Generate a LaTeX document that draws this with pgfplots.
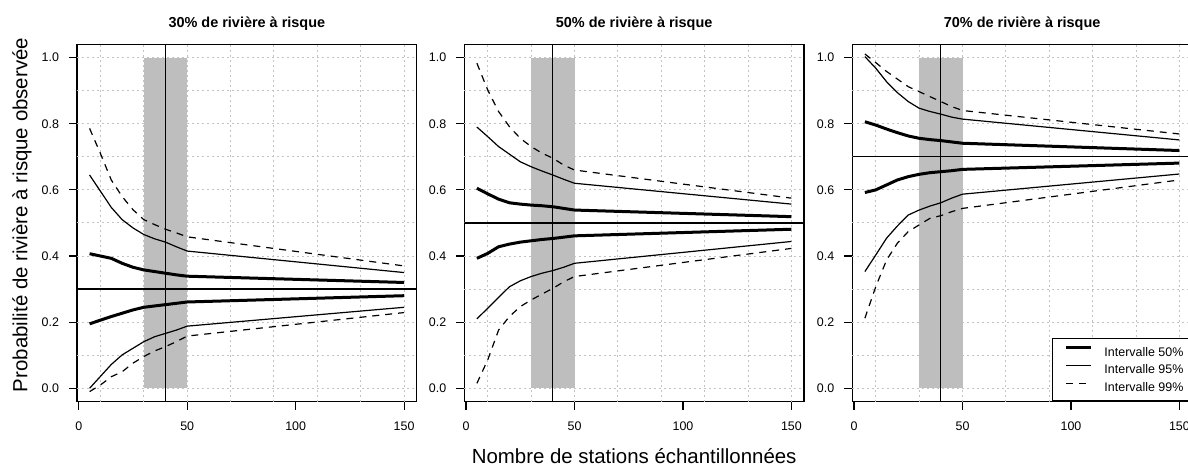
\documentclass[border=0pt]{standalone}
\usepackage{fontspec}
\setmainfont{Liberation Sans}
\usepackage{pgfplots}
\usepackage{pgfplotstable}
\pgfplotsset{compat=1.18}

\definecolor{rgray}{RGB}{190,190,190}
\definecolor{gridgray}{RGB}{195,195,195}

% quantiles of observed proportion, by number of sampled stations
\pgfplotstableread{
x    u99    u95   u50   l50   l95   l99
5    0.786  0.645 0.407 0.195 0.000 -0.010
10   0.710  0.596 0.400 0.206 0.036 0.010
15   0.630  0.547 0.393 0.217 0.072 0.035
20   0.580  0.510 0.378 0.227 0.101 0.050
25   0.540  0.485 0.366 0.237 0.121 0.076
30   0.510  0.465 0.358 0.245 0.141 0.096
35   0.495  0.452 0.353 0.249 0.156 0.113
40   0.481  0.442 0.348 0.253 0.166 0.126
45   0.470  0.428 0.343 0.257 0.176 0.141
50   0.458  0.415 0.339 0.261 0.188 0.158
150  0.370  0.350 0.320 0.280 0.245 0.229
}\tabA
\pgfplotstableread{
x    u99    u95   u50   l50   l95   l99
5    0.983  0.790 0.605 0.393 0.210 0.015
10   0.902  0.761 0.588 0.408 0.242 0.086
15   0.837  0.731 0.572 0.428 0.275 0.176
20   0.791  0.708 0.561 0.436 0.307 0.217
25   0.756  0.685 0.557 0.442 0.325 0.247
30   0.731  0.670 0.554 0.446 0.338 0.267
35   0.711  0.657 0.552 0.450 0.348 0.285
40   0.696  0.645 0.549 0.453 0.356 0.302
45   0.675  0.632 0.544 0.457 0.366 0.322
50   0.660  0.620 0.539 0.461 0.378 0.338
150  0.575  0.557 0.519 0.481 0.444 0.423
}\tabB
\pgfplotstableread{
x    u99    u95   u50   l50   l95   l99
5    1.011  1.003 0.806 0.592 0.353 0.212
10   0.985  0.968 0.796 0.600 0.403 0.307
15   0.958  0.927 0.784 0.615 0.454 0.388
20   0.935  0.894 0.773 0.630 0.491 0.439
25   0.912  0.867 0.763 0.640 0.524 0.474
30   0.897  0.847 0.756 0.647 0.539 0.494
35   0.882  0.837 0.752 0.652 0.551 0.514
40   0.867  0.829 0.749 0.655 0.561 0.522
45   0.852  0.820 0.745 0.658 0.575 0.534
50   0.840  0.814 0.741 0.662 0.587 0.544
150  0.769  0.751 0.719 0.681 0.648 0.630
}\tabC

\pgfplotsset{
  panel/.style={
    scale only axis, width=339.7bp, height=357bp,
    xmin=-0.8, xmax=155.8, ymin=-0.0405, ymax=1.039,
    xtick={0,50,100,150}, ytick={0,0.2,0.4,0.6,0.8,1},
    tick pos=left, tick align=outside, major tick length=8bp,
    tick style={black, line width=1.1bp},
    axis line style={line width=1.2bp},
    ticklabel style={font=\fontsize{12.5}{15}\selectfont},
    /pgf/number format/assume math mode=true,
    yticklabel style={/pgf/number format/fixed, /pgf/number format/fixed zerofill,
      /pgf/number format/precision=1, xshift=-6.5bp},
    xticklabel style={yshift=-8.7bp},
    extra x ticks={10,30,50,70,90,110,130,150},
    extra y ticks={0,0.1,0.2,0.3,0.4,0.5,0.6,0.7,0.8,0.9,1},
    extra x tick labels={}, extra y tick labels={},
    extra tick style={grid=major, major tick length=0pt},
    major grid style={gridgray, dash pattern=on 2bp off 3bp, line width=1bp},
    title style={font=\bfseries\fontsize{14.5}{17}\selectfont, at={(0.5,1)}, anchor=base, yshift=11.7bp},
    legend image code/.code={\draw[##1] (0bp,4.5bp) -- (25bp,4.5bp);},
  },
  i50/.style={black, line width=3bp, line join=round, forget plot},
  i95/.style={black, line width=1.2bp, line join=round, forget plot},
  i99/.style={black, line width=1.2bp, dash pattern=on 7bp off 6bp, forget plot},
  ref/.style={black, line width=1.2bp, forget plot},
}

\newcommand{\panel}[2]{%
  \addplot[fill=rgray, draw=none, forget plot] coordinates {(30,1) (50,1)} \closedcycle;
  \addplot[i99] table[x=x, y=u99] {#1};
  \addplot[i95] table[x=x, y=u95] {#1};
  \addplot[i50] table[x=x, y=u50] {#1};
  \addplot[i50] table[x=x, y=l50] {#1};
  \addplot[i95] table[x=x, y=l95] {#1};
  \addplot[i99] table[x=x, y=l99] {#1};
  \addplot[ref] coordinates {(-5,#2) (160,#2)};
  \addplot[ref] coordinates {(40,-0.1) (40,1.1)};
}

\begin{document}
\begin{tikzpicture}
\useasboundingbox (0,0) rectangle (1188bp,465bp);

\begin{axis}[panel, at={(77bp,63.3bp)}, anchor=south west,
    title={30\% de rivière à risque},
    ylabel={Probabilité de rivière à risque observée},
    ylabel style={font=\fontsize{20.5}{24}\selectfont, at={(rel axis cs:0,0.523)},
      anchor=base, yshift=49.5bp}]
  \panel{\tabA}{0.3}
\end{axis}

\begin{axis}[panel, at={(464.3bp,63.3bp)}, anchor=south west,
    title={50\% de rivière à risque},
    xlabel={Nombre de stations échantillonnées},
    xlabel style={font=\fontsize{20.5}{24}\selectfont, at={(rel axis cs:0.5,0)},
      anchor=base, yshift=-61.3bp}]
  \panel{\tabB}{0.5}
\end{axis}

\begin{axis}[panel, at={(852.3bp,63.3bp)}, anchor=south west,
    title={70\% de rivière à risque},
    legend cell align=left,
    legend style={at={(rel axis cs:1,0)}, anchor=south east, xshift=4bp, draw=black,
      line width=1.2bp, fill=white, font=\fontsize{12.5}{15}\selectfont,
      inner xsep=12bp, inner ysep=7.8bp, row sep=7.3bp,
      nodes={inner sep=0pt},
      /tikz/every odd column/.append style={column sep=12bp}}]
  \panel{\tabC}{0.7}
  \addlegendimage{black, line width=3bp}
  \addlegendentry{Intervalle 50\%}
  \addlegendimage{black, line width=1.2bp}
  \addlegendentry{Intervalle 95\%}
  \addlegendimage{black, line width=1.2bp, dash pattern=on 7bp off 6bp}
  \addlegendentry{Intervalle 99\%}
\end{axis}
\end{tikzpicture}
\end{document}
